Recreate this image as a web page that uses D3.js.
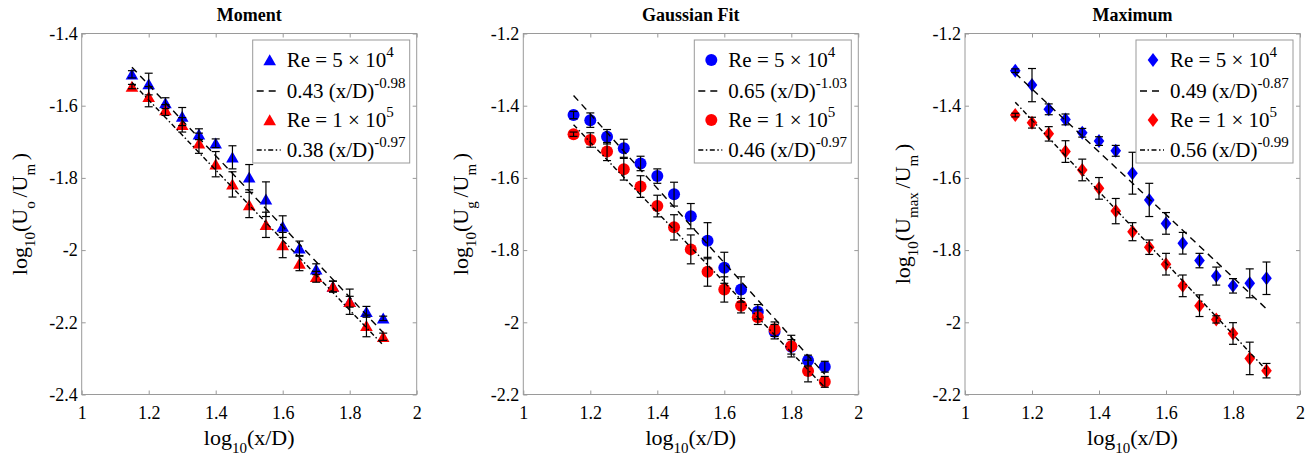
<!DOCTYPE html>
<html>
<head>
<meta charset="utf-8">
<script src="https://cdn.jsdelivr.net/npm/d3@7"></script>
<style>
  body { margin: 0; background: #fff; }
  text { font-family: "Liberation Serif", "Times New Roman", serif; fill: #000; }
</style>
</head>
<body>
<svg id="chart" width="1315" height="458"></svg>
<script>
// x positions (log10(x/D)) shared by every series
const xD = [1.15, 1.2, 1.25, 1.3, 1.35, 1.4, 1.45, 1.5, 1.55, 1.6, 1.65, 1.7, 1.75, 1.8, 1.85, 1.9];

// Moment
const momentBlue    = [-1.513, -1.540, -1.593, -1.630, -1.679, -1.704, -1.743, -1.798, -1.859, -1.935, -1.995, -2.053, -2.101, -2.143, -2.171, -2.189];
const momentBlueErr = [0.010, 0.030, 0.015, 0.025, 0.015, 0.012, 0.032, 0.035, 0.048, 0.030, 0.020, 0.015, 0.015, 0.015, 0.015, 0.006];
const momentRed     = [-1.547, -1.575, -1.612, -1.653, -1.704, -1.762, -1.818, -1.875, -1.930, -1.986, -2.037, -2.074, -2.101, -2.143, -2.210, -2.240];
const momentRedErr  = [0.006, 0.028, 0.015, 0.020, 0.028, 0.035, 0.035, 0.035, 0.035, 0.035, 0.020, 0.015, 0.015, 0.035, 0.030, 0.010];

// Gaussian fit
const gaussBlue    = [-1.426, -1.440, -1.486, -1.518, -1.560, -1.595, -1.645, -1.706, -1.774, -1.849, -1.909, -1.971, -2.026, -2.068, -2.106, -2.123];
const gaussBlueErr = [0.010, 0.020, 0.020, 0.025, 0.020, 0.020, 0.033, 0.035, 0.050, 0.043, 0.035, 0.020, 0.020, 0.020, 0.015, 0.015];
const gaussRed     = [-1.479, -1.495, -1.527, -1.576, -1.624, -1.678, -1.737, -1.798, -1.860, -1.909, -1.954, -1.986, -2.019, -2.066, -2.135, -2.165];
const gaussRedErr  = [0.006, 0.020, 0.025, 0.030, 0.030, 0.030, 0.035, 0.040, 0.040, 0.035, 0.020, 0.020, 0.020, 0.030, 0.030, 0.015];

// Maximum
const maxBlue    = [-1.303, -1.343, -1.410, -1.438, -1.475, -1.498, -1.525, -1.587, -1.661, -1.726, -1.781, -1.829, -1.872, -1.899, -1.892, -1.878];
const maxBlueErr = [0.005, 0.046, 0.015, 0.015, 0.012, 0.012, 0.015, 0.058, 0.046, 0.030, 0.030, 0.020, 0.025, 0.020, 0.040, 0.045];
const maxRed     = [-1.426, -1.447, -1.478, -1.527, -1.578, -1.629, -1.692, -1.749, -1.792, -1.839, -1.899, -1.954, -1.992, -2.031, -2.100, -2.134];
const maxRedErr  = [0.005, 0.015, 0.020, 0.030, 0.030, 0.030, 0.035, 0.025, 0.020, 0.030, 0.030, 0.030, 0.010, 0.030, 0.045, 0.020];

// power-law fits a (x/D)^b  : [blue, red]
const momentFits = [[0.43, -0.98], [0.38, -0.97]];
const gaussFits  = [[0.65, -1.03], [0.46, -0.97]];
const maxFits    = [[0.49, -0.87], [0.56, -0.99]];

const reLabels = [["5 × 10", "4"], ["1 × 10", "5"]];
const xTicks = [1, 1.2, 1.4, 1.6, 1.8, 2];
const momentYTicks = [-2.4, -2.2, -2, -1.8, -1.6, -1.4];
const otherYTicks  = [-2.2, -2, -1.8, -1.6, -1.4, -1.2];

const panels = [
  { title: "Moment", left: 81.7, yTicks: momentYTicks, blue: momentBlue, blueErr: momentBlueErr,
    red: momentRed, redErr: momentRedErr, fits: momentFits, marker: "triangle", sub: "o" },
  { title: "Gaussian Fit", left: 523.3, yTicks: otherYTicks, blue: gaussBlue, blueErr: gaussBlueErr,
    red: gaussRed, redErr: gaussRedErr, fits: gaussFits, marker: "circle", sub: "g" },
  { title: "Maximum", left: 965, yTicks: otherYTicks, blue: maxBlue, blueErr: maxBlueErr,
    red: maxRed, redErr: maxRedErr, fits: maxFits, marker: "diamond", sub: "max" }
];

const plotTop = 33.5, w = 335, h = 361;
const axisColor = "#9a9a9a";
const serif = '"Liberation Serif", "Times New Roman", serif';
const colors = ["#0000ff", "#ff0000"];
const dashes = ["7,5", "5,2.5,1.5,2.5"];
const fmt = d => String(+d.toFixed(1));

const svg = d3.select("#chart").style("font-family", serif);

function drawMarker(sel, type, color) {
  if (type === "circle") {
    sel.append("circle").attr("r", 6).attr("fill", color);
  } else if (type === "triangle") {
    sel.append("path").attr("d", "M0,-5.8L6.3,5.2L-6.3,5.2Z").attr("fill", color);
  } else {
    sel.append("path").attr("d", "M0,-7L5.3,0L0,7L-5.3,0Z").attr("fill", color);
  }
}

panels.forEach(p => {
  const g = svg.append("g").attr("transform", `translate(${p.left},${plotTop})`);
  const x = d3.scaleLinear().domain([1, 2]).range([0, w]);
  const y = d3.scaleLinear().domain([p.yTicks[0], p.yTicks[p.yTicks.length - 1]]).range([h, 0]);

  // axes (ticks point inward, MATLAB style)
  const styleAxis = a => {
    a.attr("font-family", null).attr("font-size", null);
    a.select(".domain").remove();
    a.selectAll(".tick line").attr("stroke", axisColor);
    a.selectAll(".tick text").style("font-size", "18px").style("font-family", serif).attr("fill", "#000");
  };
  g.append("g").attr("transform", `translate(0,${h})`)
    .call(d3.axisBottom(x).tickValues(xTicks).tickSize(-4).tickPadding(12).tickFormat(fmt)).call(styleAxis);
  g.append("g")
    .call(d3.axisTop(x).tickValues(xTicks).tickSize(-4).tickFormat("")).call(styleAxis);
  g.append("g")
    .call(d3.axisLeft(y).tickValues(p.yTicks).tickSize(-4).tickPadding(4).tickFormat(fmt)).call(styleAxis);
  g.append("g").attr("transform", `translate(${w},0)`)
    .call(d3.axisRight(y).tickValues(p.yTicks).tickSize(-4).tickFormat("")).call(styleAxis);
  g.append("rect").attr("width", w).attr("height", h)
    .attr("fill", "none").attr("stroke", axisColor).attr("stroke-width", 1);

  // title
  g.append("text").attr("x", w / 2).attr("y", 21 - plotTop).attr("text-anchor", "middle")
    .style("font-size", "18px").style("font-weight", "bold").text(p.title);

  // x label
  const xl = g.append("text").attr("x", w / 2).attr("y", 445 - plotTop).attr("text-anchor", "middle")
    .style("font-size", "22px");
  xl.append("tspan").text("log");
  xl.append("tspan").attr("dy", 8).style("font-size", "15px").text("10");
  xl.append("tspan").attr("dy", -8).text("(x/D)");

  // y label
  const yl = g.append("text").attr("transform", `translate(-55,${h / 2}) rotate(-90)`)
    .attr("text-anchor", "middle").style("font-size", "22px");
  yl.append("tspan").text("log");
  yl.append("tspan").attr("dy", 8).style("font-size", "15px").text("10");
  yl.append("tspan").attr("dy", -8).text("(U");
  yl.append("tspan").attr("dy", 8).style("font-size", "15px").text(p.sub + " ");
  yl.append("tspan").attr("dy", -8).text("/U");
  yl.append("tspan").attr("dy", 8).style("font-size", "15px").text("m ");
  yl.append("tspan").attr("dy", -8).text(")");

  const series = [
    { vals: p.blue, err: p.blueErr },
    { vals: p.red, err: p.redErr }
  ];

  // markers
  series.forEach((s, i) => {
    g.append("g").selectAll("g").data(s.vals).join("g")
      .attr("transform", (d, k) => `translate(${x(xD[k])},${y(d)})`)
      .each(function () { drawMarker(d3.select(this), p.marker, colors[i]); });
  });

  // fit lines
  const line = d3.line().x(d => x(d[0])).y(d => y(d[1]));
  p.fits.forEach((f, i) => {
    const ends = [xD[0], xD[xD.length - 1]].map(xv => [xv, Math.log10(f[0]) + f[1] * xv]);
    g.append("path").attr("d", line(ends)).attr("fill", "none")
      .attr("stroke", "#000").attr("stroke-width", 1.4).attr("stroke-dasharray", dashes[i]);
  });

  // error bars
  series.forEach(s => {
    const eb = g.append("g").attr("stroke", "#000").attr("stroke-width", 1.2);
    s.vals.forEach((v, k) => {
      const cx = x(xD[k]), y1 = y(v + s.err[k]), y2 = y(v - s.err[k]);
      eb.append("line").attr("x1", cx).attr("x2", cx).attr("y1", y1).attr("y2", y2);
      eb.append("line").attr("x1", cx - 4).attr("x2", cx + 4).attr("y1", y1).attr("y2", y1);
      eb.append("line").attr("x1", cx - 4).attr("x2", cx + 4).attr("y1", y2).attr("y2", y2);
    });
  });

  // legend
  const lw = 157, lh = 123, lx = w - 7 - lw, ly = 6.5;
  const lg = g.append("g").attr("transform", `translate(${lx},${ly})`);
  lg.append("rect").attr("width", lw).attr("height", lh).attr("fill", "#fff")
    .attr("stroke", axisColor).attr("stroke-width", 1);
  const rowY = [20, 51, 80, 110];
  [0, 1].forEach(i => {
    const ry = rowY[i * 2], fy = rowY[i * 2 + 1];
    const mk = lg.append("g").attr("transform", `translate(17,${ry})`);
    drawMarker(mk, p.marker, colors[i]);
    const t1 = lg.append("text").attr("x", 34).attr("y", ry + 7).style("font-size", "21px");
    t1.append("tspan").text("Re = " + reLabels[i][0]);
    t1.append("tspan").attr("dy", -10).style("font-size", "15px").text(reLabels[i][1]);

    lg.append("line").attr("x1", 4).attr("x2", 28).attr("y1", fy).attr("y2", fy)
      .attr("stroke", "#000").attr("stroke-width", 1.4).attr("stroke-dasharray", dashes[i]);
    const t2 = lg.append("text").attr("x", 34).attr("y", fy + 7).style("font-size", "21px");
    t2.append("tspan").text(p.fits[i][0].toFixed(2) + " (x/D)");
    t2.append("tspan").attr("dy", -10).style("font-size", "15px").text(p.fits[i][1].toFixed(2));
  });
});
</script>
</body>
</html>
